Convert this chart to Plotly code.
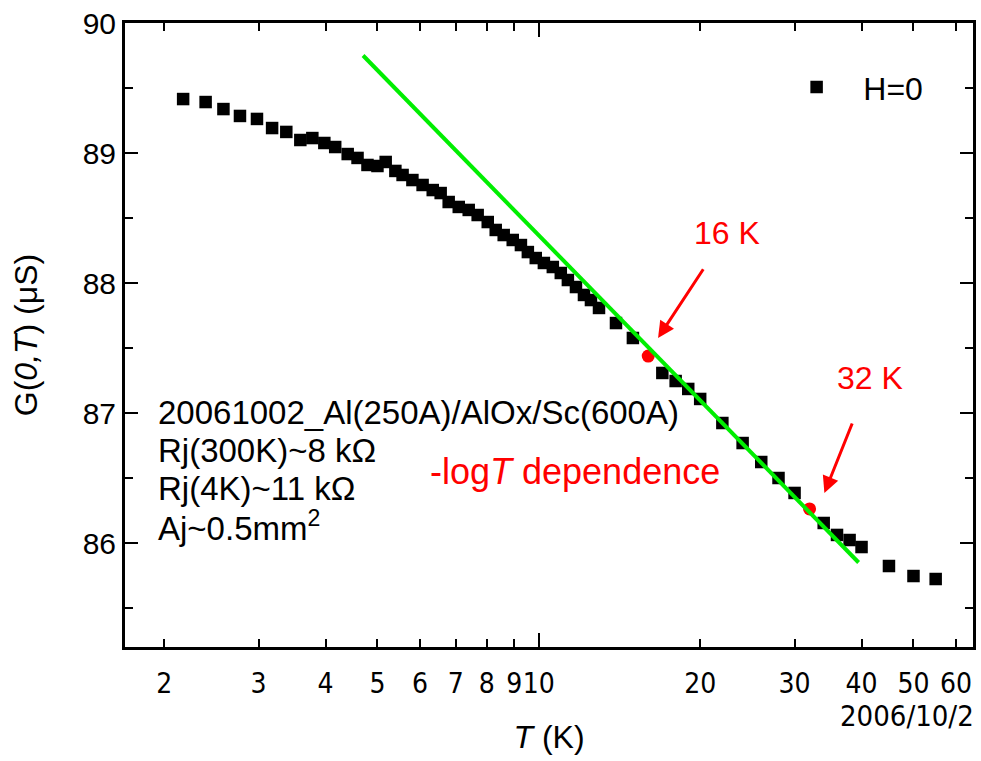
import math
import plotly.graph_objects as go

# H=0 data (black squares)
T_black = [2.17, 2.39, 2.58, 2.77, 2.98, 3.18, 3.38, 3.59, 3.78, 3.98, 4.17, 4.40, 4.59, 4.79,
           5.00, 5.18, 5.40, 5.57, 5.81, 6.07, 6.34, 6.56, 6.79, 7.09, 7.40, 7.69, 8.03, 8.31,
           8.60, 8.94, 9.26, 9.54, 9.87, 10.22, 10.62, 10.99, 11.33, 11.73, 12.14, 12.51, 12.95,
           13.93, 14.98, 17.0, 18.0, 19.0, 20.0, 22.0, 24.0, 26.0, 28.0, 30.0, 34.0, 36.0, 38.0,
           40.0, 45.0, 50.0, 55.0]
G_black = [89.415, 89.392, 89.338, 89.285, 89.262, 89.192, 89.162, 89.100, 89.115, 89.077,
           89.046, 88.992, 88.962, 88.908, 88.900, 88.931, 88.862, 88.831, 88.792, 88.754,
           88.715, 88.692, 88.623, 88.585, 88.562, 88.523, 88.469, 88.408, 88.369, 88.331,
           88.292, 88.238, 88.192, 88.154, 88.123, 88.077, 88.023, 87.969, 87.908, 87.869,
           87.808, 87.692, 87.577, 87.308, 87.246, 87.185, 87.108, 86.923, 86.769, 86.623,
           86.500, 86.385, 86.154, 86.062, 86.023, 85.969, 85.823, 85.746, 85.723]

# highlighted points (red)
T_red = [16.0, 32.0]
G_red = [87.438, 86.262]

# -log T fit line (green)
T_fit = [4.7, 39.5]
G_fit = [89.75, 85.85]

x_tickvals = [2, 3, 4, 5, 6, 7, 8, 9, 10, 20, 30, 40, 50, 60]
x_ticktext = ["2", "3", "4", "5", "6", "7", "8", "9", "10", "20", "30", "40", "50", "60"]
y_tickvals = [86, 87, 88, 89, 90]

FONT = "Liberation Sans, Arial, sans-serif"
NARROW = "Liberation Sans Narrow, DejaVu Sans Condensed, Liberation Sans, Arial, sans-serif"

fig = go.Figure()
fig.add_trace(go.Scatter(x=T_black, y=G_black, mode="markers", name="   H=0",
                         marker=dict(symbol="square", size=12.5, color="black"),
                         showlegend=True))
fig.add_trace(go.Scatter(x=T_red, y=G_red, mode="markers", showlegend=False,
                         marker=dict(symbol="circle", size=13, color="red")))
fig.add_trace(go.Scatter(x=T_fit, y=G_fit, mode="lines", showlegend=False,
                         line=dict(color="#00ee00", width=4)))
# invisible trace for secondary (major-tick) x axis
fig.add_trace(go.Scatter(x=[10], y=[88], xaxis="x2", mode="markers",
                         marker=dict(opacity=0), showlegend=False, hoverinfo="skip"))

xr = [0.228, 1.81]
fig.update_layout(
    width=981, height=761,
    margin=dict(l=125, r=8, t=23, b=114),
    paper_bgcolor="white", plot_bgcolor="white",
    font=dict(family=FONT, size=30, color="black"),
    xaxis=dict(type="log", range=xr, tickvals=x_tickvals, ticktext=x_ticktext,
               tickangle=0, automargin=False, ticklabelstandoff=9,
               ticks="inside", ticklen=8, tickwidth=2, tickcolor="black",
               showline=True, linewidth=3, linecolor="black", mirror="ticks",
               showgrid=False, zeroline=False,
               tickfont=dict(size=28, family=NARROW),
               title=dict(text="<i>T</i> (K)", font=dict(size=32), standoff=28)),
    xaxis2=dict(type="log", range=xr, overlaying="x", side="bottom", anchor="y",
                tickvals=[10], ticks="inside", ticklen=14, tickwidth=2, automargin=False,
                tickcolor="black", showticklabels=False, mirror="ticks",
                showline=False, showgrid=False, zeroline=False),
    yaxis=dict(range=[85.2, 90], tickvals=y_tickvals, automargin=False,
               ticks="inside", ticklen=13, tickwidth=2, tickcolor="black",
               minor=dict(dtick=0.5, tick0=85, ticks="inside", ticklen=8,
                          tickwidth=2, tickcolor="black", showgrid=False),
               showline=True, linewidth=3, linecolor="black", mirror="ticks",
               showgrid=False, zeroline=False, tickfont=dict(size=30),
               title=dict(text="G(<i>0,T</i>) (μS)", font=dict(size=32), standoff=36)),
    legend=dict(x=0.792, y=0.897, xanchor="left", yanchor="middle",
                bgcolor="rgba(0,0,0,0)", font=dict(size=32)),
)

black_lines = [
    ("20061002_Al(250A)/AlOx/Sc(600A)", 412),
    ("Rj(300K)~8 kΩ", 450),
    ("Rj(4K)~11 kΩ", 488),
    ("Aj~0.5mm<sup>2</sup>", 526),
]
for txt, py in black_lines:
    fig.add_annotation(text=txt, xref="paper", yref="paper",
                       x=(156 - 125) / 848, y=1 - (py - 23) / 624,
                       xanchor="left", yanchor="middle", showarrow=False,
                       font=dict(size=33, color="black"))

fig.add_annotation(text="-log<i>T</i> dependence", xref="paper", yref="paper",
                   x=(722 - 125) / 848, y=1 - (471 - 23) / 624,
                   xanchor="right", yanchor="middle", showarrow=False,
                   font=dict(size=36, color="red"))

# labels with arrows pointing at the highlighted points
fig.add_annotation(x=math.log10(16.69), y=87.577, xref="x", yref="y", text="16 K",
                   showarrow=True, arrowhead=2, arrowsize=1.1, arrowwidth=3,
                   arrowcolor="red", ax=69, ay=-105, startstandoff=20,
                   font=dict(size=32, color="red"))
fig.add_annotation(x=math.log10(34.1), y=86.385, xref="x", yref="y", text="32 K",
                   showarrow=True, arrowhead=2, arrowsize=1.1, arrowwidth=3,
                   arrowcolor="red", ax=46, ay=-115, startstandoff=28,
                   font=dict(size=32, color="red"))

fig.add_annotation(text="2006/10/2", xref="paper", yref="paper",
                   x=(976 - 125) / 848, y=1 - (716 - 23) / 624,
                   xanchor="right", yanchor="middle", showarrow=False,
                   font=dict(size=29, color="black", family=NARROW))

fig.write_html("out.html", config={"displayModeBar": False},
               post_script="document.body.style.margin='0';"
                           "document.body.style.overflow='hidden';")
